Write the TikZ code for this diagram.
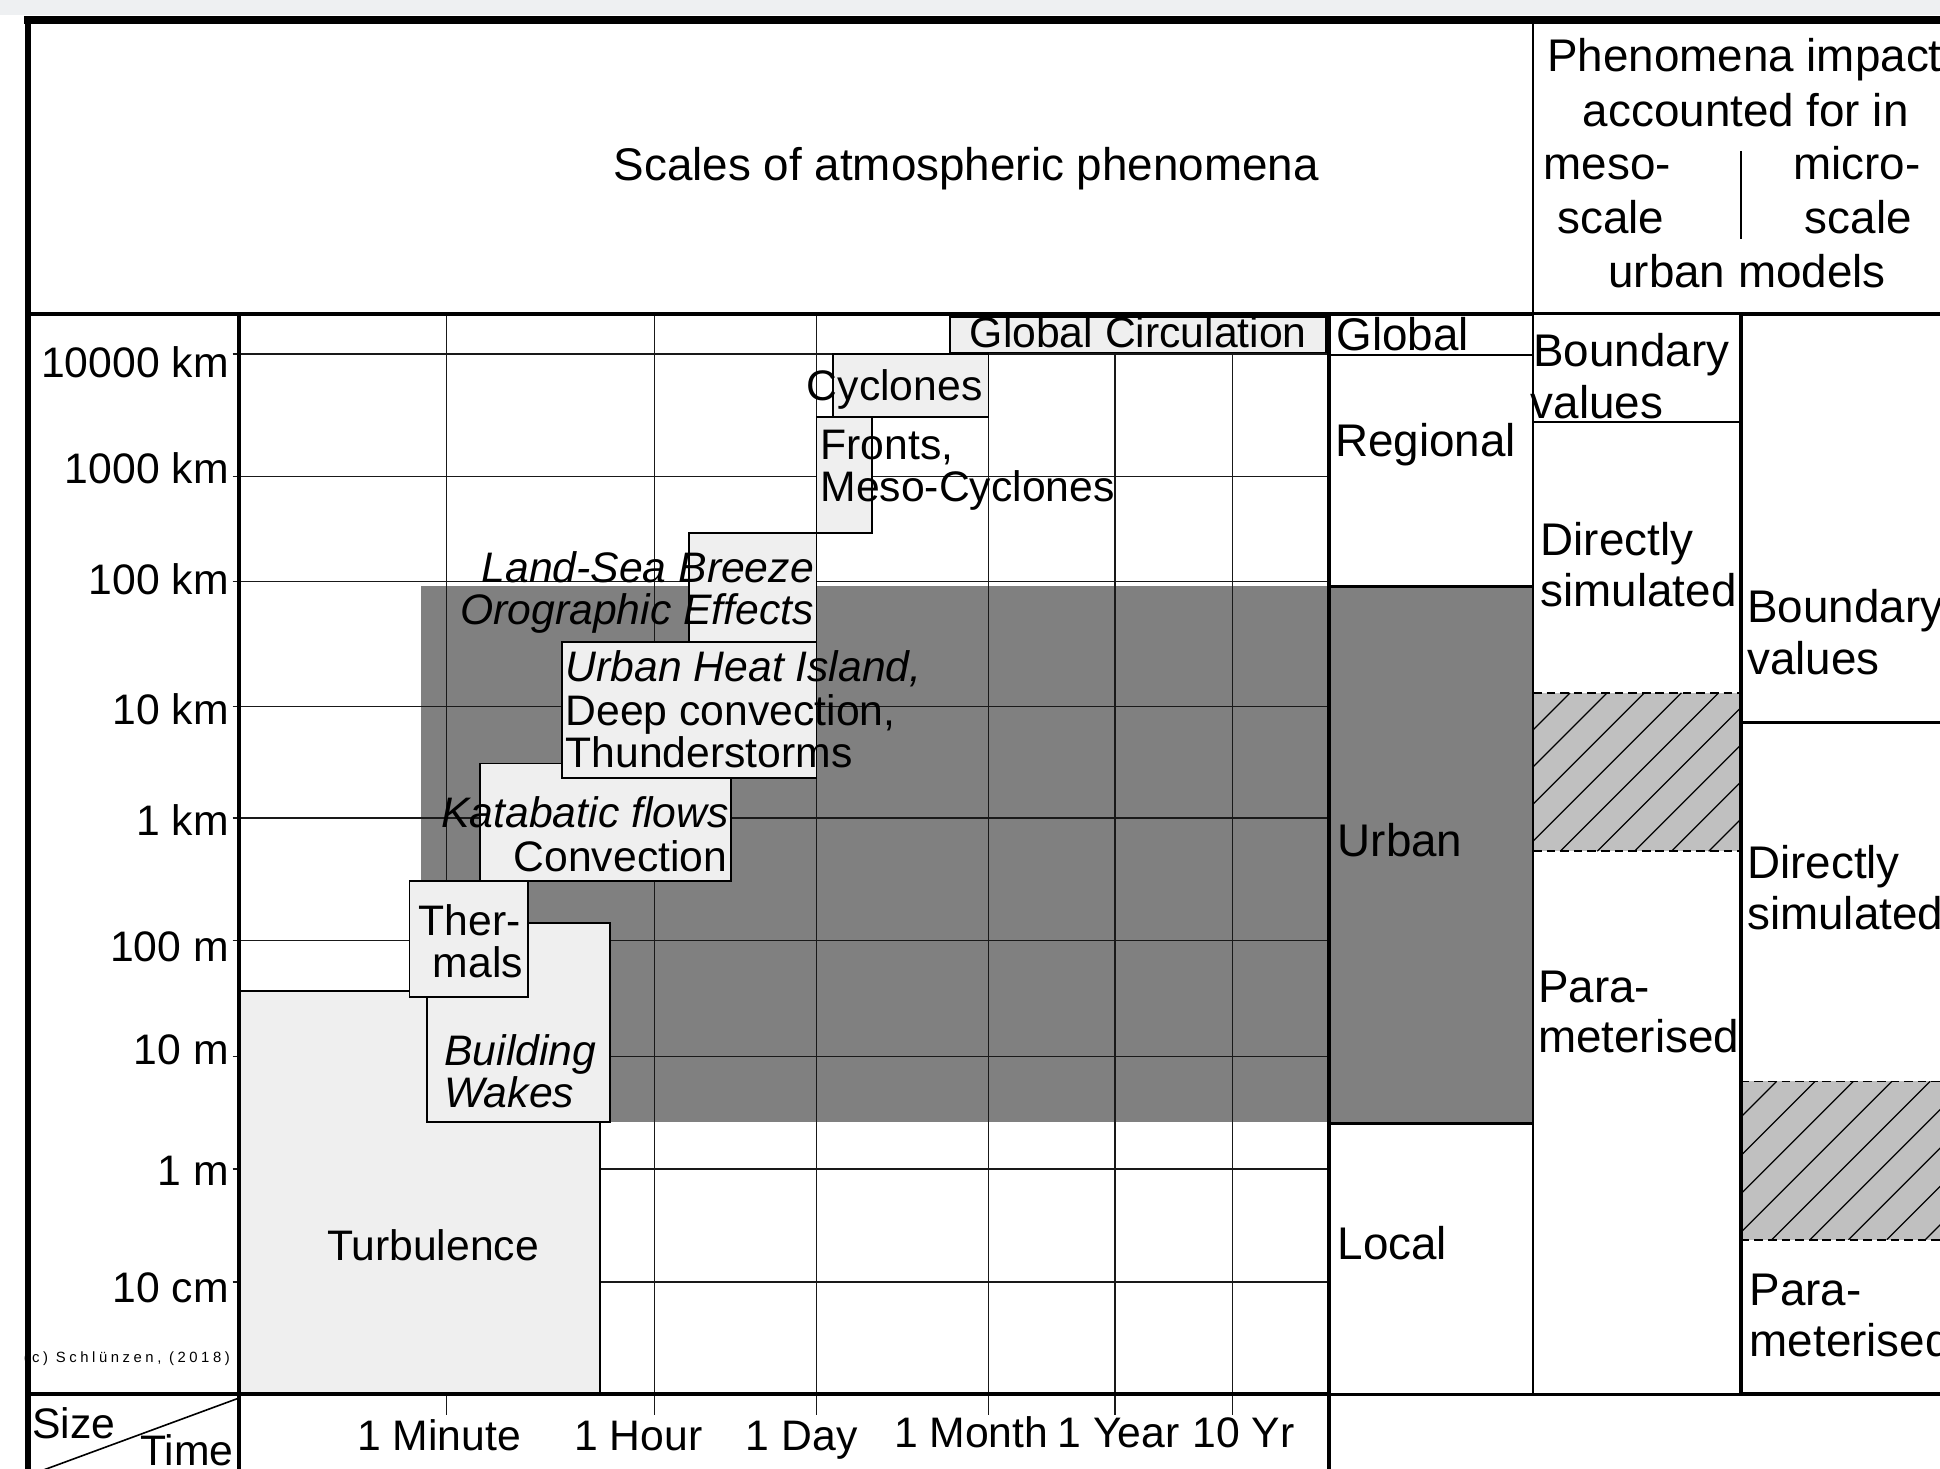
\documentclass[tikz,border=0pt]{standalone}
\usepackage{fontspec}
\setmainfont{Liberation Sans}
\newfontfamily\copyfamily[LetterSpace=24]{Liberation Sans}
\usetikzlibrary{positioning}
\definecolor{boxgrey}{HTML}{EFEFEF}
\definecolor{urbangrey}{HTML}{808080}
\definecolor{hatchgrey}{HTML}{C0C0C0}
\definecolor{pagegrey}{HTML}{EEF0F2}
\newcommand{\labfont}{\fontsize{34.5}{35}\selectfont}
\newcommand{\colfont}{\fontsize{37}{41.5}\selectfont}
\newcommand{\headfont}{\fontsize{37}{43.5}\selectfont}
\newcommand{\copyfont}{\copyfamily\fontsize{12}{13}\selectfont}

\begin{document}
\begin{tikzpicture}[
    x=1pt, y=-1pt,
    gridline/.style={draw=black!90, line width=1.2pt},
    rule/.style={draw=black, line width=2pt},
    heavy/.style={draw=black, line width=3.2pt},
    phen/.style={draw=black, fill=boxgrey, line width=1.4pt},
    hatchline/.style={draw=black, line width=1pt},
    dashedge/.style={draw=black, line width=1.4pt, dash pattern=on 7pt off 4pt},
    txt/.style={inner sep=0pt, font=\labfont},
    itxt/.style={inner sep=0pt, font=\labfont\itshape},
    ctxt/.style={inner sep=0pt, font=\colfont, anchor=base west},
    htxt/.style={inner sep=0pt, font=\headfont, anchor=base}
]
\useasboundingbox (0,0) rectangle (1568,1187);
\fill[white] (0,0) rectangle (1568,1187);
\fill[pagegrey] (0,0) rectangle (1568,12);

% urban band
\fill[urbangrey] (340,474) rectangle (1074,907);
\fill[urbangrey] (1074,474) rectangle (1239,908);

% grid
\foreach \gy in {286,385,470,571,661,760,854,945,1036}
    \draw[gridline] (188,\gy) -- (1074,\gy);
\foreach \gx in {361,529,660,799,901,996}
    \draw[gridline] (\gx,253) -- (\gx,1144);

% phenomena
\draw[phen] (193,801) rectangle (485,1127);
\draw[phen] (345,746) rectangle (493,907);
\draw[phen] (331,712) rectangle (427,806);
\draw[phen] (388,617) rectangle (591,712);
\draw[phen] (454,519) rectangle (660,629);
\draw[phen] (557,431) rectangle (660,519);
\draw[phen] (660,337) rectangle (705,431);
\draw[phen] (673,286) rectangle (799,337);
\draw[phen] (768,256) rectangle (1072,285);

% hatched transitions
\begin{scope}
    \clip (1239,560) rectangle (1407,688);
    \fill[hatchgrey] (1239,560) rectangle (1407,688);
    \foreach \k in {-5,...,5}
        \draw[hatchline] (1261+30*\k,688) -- ++(128,-128);
\end{scope}
\begin{scope}
    \clip (1407,874) rectangle (1600,1002);
    \fill[hatchgrey] (1407,874) rectangle (1600,1002);
    \foreach \k in {-5,...,5}
        \draw[hatchline] (1432+31*\k,1002) -- ++(128,-128);
\end{scope}
\draw[dashedge] (1239,560) -- (1407,560) (1239,688) -- (1407,688);
\draw[dashedge] (1407,874) -- (1600,874) (1407,1002) -- (1600,1002);

% frame and table rules
\draw[line width=6.5pt] (19.5,16.3) -- (1600,16.3);
\draw[line width=5pt] (22.5,13) -- (22.5,1200);
\draw[heavy] (22,253.5) -- (1239,253.5);
\draw[rule] (1239,253.5) -- (1407,253.5);
\draw[heavy] (1407,253.5) -- (1600,253.5);
\draw[rule] (1239,16) -- (1239,1127);
\draw[heavy] (193.5,253) -- (193.5,1200);
\draw[heavy] (1074,253) -- (1074,1200);
\draw[heavy] (22,1127) -- (1074,1127);
\draw[rule] (1074,287) -- (1239,287) (1074,474) -- (1239,474)
    (1074,908) -- (1239,908) (1074,1127) -- (1239,1127);
\draw[rule] (1239,341) -- (1407,341) (1239,1127) -- (1407,1127);
\draw[heavy] (1407,253) -- (1407,1127);
\draw[rule] (1407,584) -- (1600,584);
\draw[heavy] (1407,1127) -- (1600,1127);
\draw[rule] (1407,122) -- (1407,193);
\draw[line width=1.3pt] (30,1190) -- (193,1130);

% header
\node[htxt] (title) at (781,146) {Scales of atmospheric phenomena};
\node[htxt] (impact) at (1410,58) {Phenomena impact};
\node[htxt] (acc) at (1411,102) {accounted for in};
\node[htxt] (meso) at (1299,145) {meso-};
\node[htxt] (mesoscale) at (1302,189) {scale};
\node[htxt] (micro) at (1501,145) {micro-};
\node[htxt] (microscale) at (1502,189) {scale};
\node[htxt] (models) at (1412,232) {urban models};

% size axis
\foreach \lab/\ly in {10000 km/305.5, 1000 km/390.5, 100 km/480.5, 10 km/585.5,
    1 km/675.5, 100 m/777.5, 10 m/860.5, 1 m/958.5, 10 cm/1052.5}
    \node[txt, anchor=base east] at (185,\ly) {\lab};

% time axis
\node[txt, anchor=base] (tmin) at (355,1172) {1 Minute};
\node[txt, anchor=base] (thour) at (516,1172) {1 Hour};
\node[txt, anchor=base] (tday) at (648,1172) {1 Day};
\node[txt, anchor=base] (tmonth) at (785,1170) {1 Month};
\node[txt, anchor=base] (tyear) at (904,1170) {1 Year};
\node[txt, anchor=base] (tdecade) at (1005,1170) {10 Yr};
\node[txt, anchor=base west] (size) at (26,1162.5) {Size};
\node[txt, anchor=base west] (time) at (113,1184.5) {Time};
\node[inner sep=0pt, font=\copyfont, anchor=base west] (copyr) at (19,1101.5) {(c) Schlünzen, (2018)};

% phenomena labels
\node[txt, anchor=base] (globcirc) at (920,281) {Global Circulation};
\node[txt, anchor=base west] (cyclones) at (652,324) {Cyclones};
\node[txt, anchor=base west] (fronts) at (663,371) {Fronts,};
\node[txt, anchor=base west] (mesocyc) at (663,405) {Meso-Cyclones};
\node[itxt, anchor=base east] (landsea) at (658,471) {Land-Sea Breeze};
\node[itxt, anchor=base east] (orogr) at (658,504.5) {Orographic Effects};
\node[itxt, anchor=base west] (uhi) at (457,551) {Urban Heat Island,};
\node[txt, anchor=base west] (deepconv) at (457,586) {Deep convection,};
\node[txt, anchor=base west] (thunder) at (457,620) {Thunderstorms};
\node[itxt, anchor=base east] (katab) at (589,669) {Katabatic flows};
\node[txt, anchor=base east] (convect) at (588,704) {Convection};
\node[txt, anchor=base east] (ther) at (421,756) {Ther-};
\node[txt, anchor=base east] (mals) at (423,790) {mals};
\node[itxt, anchor=base west] (building) at (359,861) {Building};
\node[itxt, anchor=base west] (wakes) at (359,895) {Wakes};
\node[txt, anchor=base] (turb) at (350,1019) {Turbulence};

% scale classes
\node[ctxt] (global) at (1080,283) {Global};
\node[ctxt] (regional) at (1079,369) {Regional};
\node[ctxt] (urban) at (1081,692) {Urban};
\node[ctxt] (local) at (1081,1018) {Local};

% mesoscale models
\node[ctxt] (mesobv1) at (1239,296) {Boundary};
\node[ctxt] (mesobv2) at (1237,338) {values};
\node[ctxt] (mesods1) at (1245,449) {Directly};
\node[ctxt] (mesods2) at (1245,490) {simulated};
\node[ctxt] (mesopa1) at (1243,810) {Para-};
\node[ctxt] (mesopa2) at (1243,851) {meterised};

% microscale models
\node[ctxt] (microbv1) at (1412,503) {Boundary};
\node[ctxt] (microbv2) at (1412,545) {values};
\node[ctxt] (microds1) at (1412,710) {Directly};
\node[ctxt] (microds2) at (1412,751) {simulated};
\node[ctxt] (micropa1) at (1414,1055) {Para-};
\node[ctxt] (micropa2) at (1414,1096) {meterised};
\end{tikzpicture}
\end{document}
